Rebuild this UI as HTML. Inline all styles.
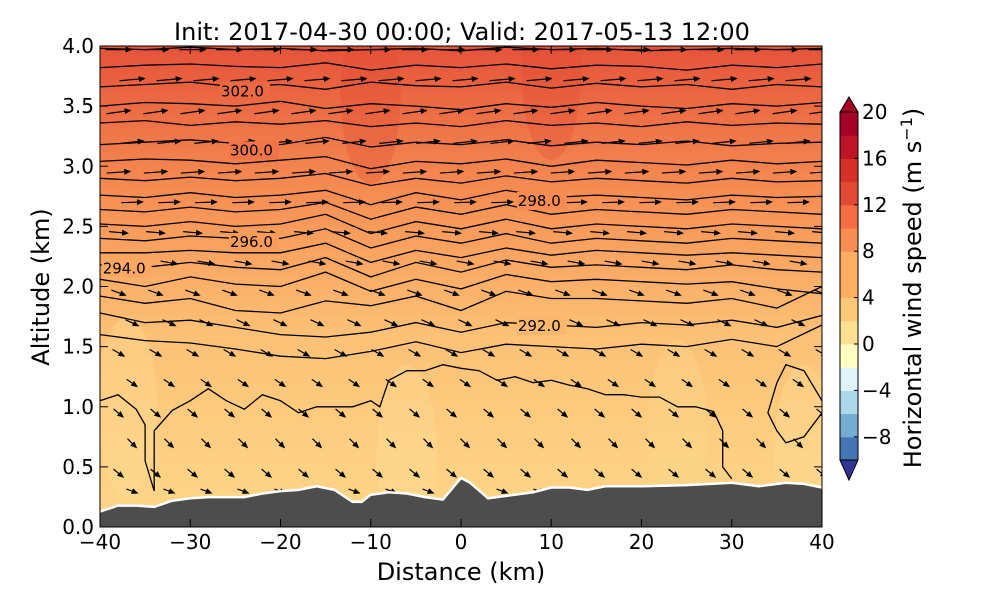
<!DOCTYPE html>
<html><head><meta charset="utf-8">
<style>
body{margin:0;background:#fff;width:1000px;height:600px;overflow:hidden;font-family:"DejaVu Sans","Liberation Sans",sans-serif;}
text{font-family:"DejaVu Sans","Liberation Sans",sans-serif;}
</style></head>
<body>
<svg id="chart" width="1000" height="600" viewBox="0 0 1000 600" xmlns="http://www.w3.org/2000/svg">
<defs>
<linearGradient id="bg" x1="0" y1="0" x2="0" y2="1">
<stop offset="0" stop-color="#e6533a"/>
<stop offset="0.12" stop-color="#ec6a43"/>
<stop offset="0.3" stop-color="#f68c52"/>
<stop offset="0.45" stop-color="#faa863"/>
<stop offset="0.6" stop-color="#fcc176"/>
<stop offset="0.8" stop-color="#fdcd80"/>
<stop offset="1" stop-color="#fed78a"/>
</linearGradient>
<clipPath id="plotclip"><rect x="100" y="46" width="722" height="481"/></clipPath>
<marker id="ah" markerWidth="7" markerHeight="6" refX="5" refY="3" orient="auto" markerUnits="userSpaceOnUse"><path d="M0,0 L7,3 L0,6 Z" fill="#000"/></marker>
</defs>
<text x="462" y="40" font-size="24" text-anchor="middle">Init: 2017-04-30 00:00; Valid: 2017-05-13 12:00</text>
<rect x="100" y="46" width="722" height="481" fill="url(#bg)"/>
<g id="patches" clip-path="url(#plotclip)"></g>
<g id="contours" clip-path="url(#plotclip)"></g>
<g id="arrows" clip-path="url(#plotclip)"></g>
<g id="terrain" clip-path="url(#plotclip)"></g>
<g id="labels"></g>
<rect x="100" y="46" width="722" height="481" fill="none" stroke="#000" stroke-width="1"/>
<g id="axes"></g>
<g id="colorbar"></g>
<text x="461" y="580" font-size="24" text-anchor="middle">Distance (km)</text>
<text x="0" y="0" font-size="24" text-anchor="middle" transform="translate(49,287) rotate(-90)">Altitude (km)</text>
<text x="0" y="0" font-size="24" text-anchor="middle" transform="translate(921,288) rotate(-90)">Horizontal wind speed (m s<tspan baseline-shift="super" font-size="16">−1</tspan>)</text>
</svg>
<script>
const xTicks=[-40,-30,-20,-10,0,10,20,30,40];
const yTicks=[0.0,0.5,1.0,1.5,2.0,2.5,3.0,3.5,4.0];
const cbTicks=[-8,-4,0,4,8,12,16,20];
const terrainX=[-40,-38,-36,-34,-32,-30,-28,-26,-24,-22,-20,-18,-16,-14,-12,-11,-10,-8,-6,-4,-2,0,1,3,5,8,10,12,14,16,20,25,30,33,36,38,40];
const terrainZ=[0.12,0.17,0.17,0.16,0.21,0.23,0.24,0.24,0.24,0.27,0.29,0.30,0.33,0.30,0.20,0.20,0.26,0.28,0.27,0.24,0.22,0.40,0.36,0.23,0.25,0.28,0.32,0.32,0.30,0.33,0.33,0.34,0.36,0.33,0.36,0.35,0.32];
const contourX=[-40,-35,-30,-25,-20,-15,-10,-5,0,5,10,15,20,25,30,35,40];
const contourLevels=[
[3.98,3.97,3.99,3.97,3.98,3.96,3.97,3.98,3.96,3.99,3.97,3.98,3.96,3.97,3.98,3.97,3.98],
[3.82,3.84,3.85,3.83,3.82,3.86,3.80,3.84,3.82,3.85,3.81,3.84,3.83,3.80,3.84,3.82,3.85],
[3.66,3.68,3.70,3.66,3.68,3.64,3.70,3.67,3.66,3.70,3.65,3.69,3.66,3.68,3.64,3.68,3.66],
[3.50,3.53,3.52,3.50,3.54,3.48,3.52,3.50,3.47,3.52,3.49,3.53,3.50,3.48,3.52,3.50,3.53],
[3.36,3.38,3.34,3.37,3.35,3.38,3.33,3.36,3.33,3.38,3.34,3.36,3.33,3.37,3.34,3.36,3.35],
[3.18,3.20,3.22,3.19,3.18,3.24,3.16,3.20,3.18,3.22,3.17,3.20,3.18,3.21,3.17,3.19,3.20],
[3.04,3.06,3.05,3.02,3.05,3.08,2.98,3.04,3.02,3.06,3.00,3.05,3.03,3.01,3.05,3.02,3.04],
[2.90,2.88,2.91,2.88,2.90,2.94,2.84,2.90,2.86,2.92,2.87,2.90,2.88,2.86,2.90,2.87,2.88],
[2.76,2.74,2.78,2.74,2.76,2.80,2.68,2.78,2.72,2.80,2.74,2.76,2.74,2.72,2.76,2.74,2.75],
[2.64,2.62,2.66,2.62,2.64,2.70,2.56,2.66,2.60,2.68,2.60,2.64,2.62,2.60,2.64,2.62,2.60],
[2.52,2.50,2.54,2.50,2.52,2.60,2.44,2.54,2.48,2.56,2.48,2.52,2.50,2.48,2.52,2.50,2.48],
[2.40,2.38,2.42,2.40,2.40,2.48,2.32,2.42,2.36,2.44,2.36,2.40,2.38,2.36,2.40,2.38,2.36],
[2.28,2.28,2.30,2.28,2.28,2.36,2.20,2.30,2.24,2.32,2.26,2.30,2.28,2.26,2.28,2.26,2.24],
[2.18,2.16,2.20,2.16,2.14,2.24,2.08,2.20,2.12,2.22,2.16,2.18,2.16,2.14,2.18,2.14,2.12],
[2.06,2.00,2.08,2.02,2.00,2.12,1.96,2.06,1.98,2.10,2.04,2.06,2.04,2.02,2.04,1.98,1.94],
[1.92,1.86,1.90,1.80,1.78,1.88,1.84,1.92,1.80,1.96,1.90,1.90,1.88,1.86,1.90,1.82,2.00],
[1.78,1.70,1.72,1.66,1.60,1.58,1.62,1.70,1.62,1.70,1.68,1.66,1.70,1.68,1.72,1.66,1.76],
[1.60,1.55,1.53,1.48,1.42,1.40,1.46,1.54,1.45,1.52,1.50,1.48,1.52,1.50,1.56,1.50,1.68]];
const loopX=[-40,-38,-36,-35,-35,-34,-34,-32,-30,-28,-26,-24,-22,-20,-18,-16,-14,-12,-10,-9,-8,-6,-4,-2,0,2,4,6,8,10,12,14,16,18,20,22,24,26,28,29,29,30];
const loopZ=[1.05,1.1,0.98,0.85,0.55,0.30,0.80,0.97,1.05,1.15,1.05,0.98,1.10,1.05,0.95,1.0,1.0,1.0,1.05,1.0,1.22,1.30,1.30,1.35,1.32,1.30,1.22,1.25,1.20,1.22,1.18,1.15,1.10,1.10,1.08,1.08,1.00,1.00,0.96,0.80,0.50,0.40];
const loop2X=[40,38,36,35,34,35,36,38,40];
const loop2Z=[1.05,1.3,1.35,1.2,0.95,0.8,0.7,0.75,0.95];
const labelText=["302.0","300.0","298.0","296.0","294.0","292.0"];
const labelXkm=[-26.6,-25.6,6.3,-25.6,-39.7,6.3];
const labelZkm=[3.58,3.09,2.67,2.33,2.11,1.63];
const arrowRowZ=[3.97,3.72,3.45,3.2,2.95,2.7,2.45,2.2,1.95,1.7,1.45,1.2,0.95,0.7,0.45,0.3];
const arrowAngle=[0,-5,-8,-6,-4,-2,5,10,20,25,30,35,40,45,40,20];
const arrowLen=[2.8,2.7,2.6,2.5,2.5,2.3,2.0,1.8,1.6,1.5,1.4,1.3,1.3,1.3,1.3,1.2];
const cbColors=["#313695","#4575b4","#74add1","#abd9e9","#e0f3f8","#ffffbf","#fee090","#fdc878","#fdae61","#f88d52","#f46d43","#e34a33","#d73027","#bd1426","#a50026"];
const cbStops=[-10,-8,-6,-4,-2,0,2,4,8,10,12,14,16,18,20];

const NS="http://www.w3.org/2000/svg";
const X=v=>100+(v+40)*722/80;
const Y=v=>527-v*481/4;
function el(tag,attrs,parent){const e=document.createElementNS(NS,tag);for(const k in attrs)e.setAttribute(k,attrs[k]);parent.appendChild(e);return e;}
const axes=document.getElementById('axes');
xTicks.forEach(t=>{
 const g=el('g',{},axes);
 
 
 el('line',{x1:X(t),x2:X(t),y1:527,y2:519,stroke:'#000'},g);
 el('line',{x1:X(t),x2:X(t),y1:46,y2:54,stroke:'#000'},g);
 const tx=el('text',{x:X(t),y:549,'font-size':20,'text-anchor':'middle'},g);tx.textContent=t<0?'−'+Math.abs(t):t;
});
yTicks.forEach(t=>{
 const g=el('g',{},axes);
 
 
 el('line',{x1:100,x2:108,y1:Y(t),y2:Y(t),stroke:'#000'},g);
 el('line',{x1:822,x2:814,y1:Y(t),y2:Y(t),stroke:'#000'},g);
 const tx=el('text',{x:94,y:Y(t)+7,'font-size':20,'text-anchor':'end'},g);tx.textContent=t.toFixed(1);
});
const patches=document.getElementById('patches');
[[-37,1.0,"#fee29a"],[-6,0.6,"#fee29a"],[24,0.8,"#fddc90"],[38,0.6,"#fee29a"],[-10,3.6,"#e24a33"],[10,3.8,"#e24a33"]].forEach(p=>{
 const e=el('ellipse',{cx:X(p[0]),cy:Y(p[1]),rx:30,ry:90,fill:p[2],opacity:0.3},patches);
 
 
});
const cg=document.getElementById('contours');
contourLevels.forEach(lv=>{
 const d=lv.map((z,i)=>(i?'L':'M')+X(contourX[i]).toFixed(1)+','+Y(z).toFixed(1)).join(' ');
 const p=el('path',{d:d,fill:'none',stroke:'#000','stroke-width':1.3},cg);
 
 
});
[[loopX,loopZ],[loop2X,loop2Z]].forEach(pr=>{
 const ld=pr[0].map((x,i)=>(i?'L':'M')+X(x).toFixed(1)+','+Y(pr[1][i]).toFixed(1)).join(' ');
 const lp=el('path',{d:ld,fill:'none',stroke:'#000','stroke-width':1.3},cg);
 
 
});
const ag=document.getElementById('arrows');
arrowRowZ.forEach((z,r)=>{
 for(let c=0;c<20;c++){
  const xk=-38+c*4.1+(r%2)*1.5;
  const a=arrowAngle[r]*Math.PI/180, L=arrowLen[r]*9;
  const cx=X(xk),cy=Y(z);
  const ln=el('line',{x1:cx-L/2*Math.cos(a),y1:cy-L/2*Math.sin(a),x2:cx+L/2*Math.cos(a),y2:cy+L/2*Math.sin(a),stroke:'#000','stroke-width':1.2,'marker-end':'url(#ah)'},ag);
  
  
 }
});
const tg=document.getElementById('terrain');
let td='M'+X(-40)+','+Y(0);
terrainX.forEach((x,i)=>{td+=' L'+X(x).toFixed(1)+','+Y(terrainZ[i]).toFixed(1);});
td+=' L'+X(40)+','+Y(0)+' Z';
const tp=el('path',{d:td,fill:'#4d4d4d',stroke:'none'},tg);


const tl=el('path',{d:terrainX.map((x,i)=>(i?'L':'M')+X(x).toFixed(1)+','+(Y(terrainZ[i])-1).toFixed(1)).join(' '),fill:'none',stroke:'#fff','stroke-width':2.5},tg);


const lg=document.getElementById('labels');
const labelBg=["#ec6a43","#f07448","#f68c52","#f99c5a","#faa863","#fbb86d"];
labelText.forEach((t,i)=>{
 const x=X(labelXkm[i]),y=Y(labelZkm[i]);
 el('rect',{x:x-1,y:y-14,width:50,height:18,fill:labelBg[i]},lg);
 const tx=el('text',{x:x,y:y,'font-size':15},lg);tx.textContent=t;
 
 
});
const cb=document.getElementById('colorbar');
const CY=v=>460-(v+10)*348/30;
for(let i=0;i<cbStops.length-1;i++){
 const r=el('rect',{x:840,y:CY(cbStops[i+1]),width:18,height:CY(cbStops[i])-CY(cbStops[i+1])+0.5,fill:cbColors[i+1]},cb);
 
 
}
const tri1=el('path',{d:`M840,${CY(20)} L849,97 L858,${CY(20)} Z`,fill:'#a50026',stroke:'#000'},cb);


const tri2=el('path',{d:`M840,460 L849,480 L858,460 Z`,fill:'#313695',stroke:'#000'},cb);


el('rect',{x:840,y:CY(20),width:18,height:460-CY(20),fill:'none',stroke:'#000'},cb);
cbTicks.forEach(t=>{
 el('line',{x1:854,x2:858,y1:CY(t),y2:CY(t),stroke:'#000'},cb);
 const tx=el('text',{x:862,y:CY(t)+7,'font-size':20},cb);tx.textContent=t<0?'−'+Math.abs(t):t;
 
 
});
</script>
</body></html>
